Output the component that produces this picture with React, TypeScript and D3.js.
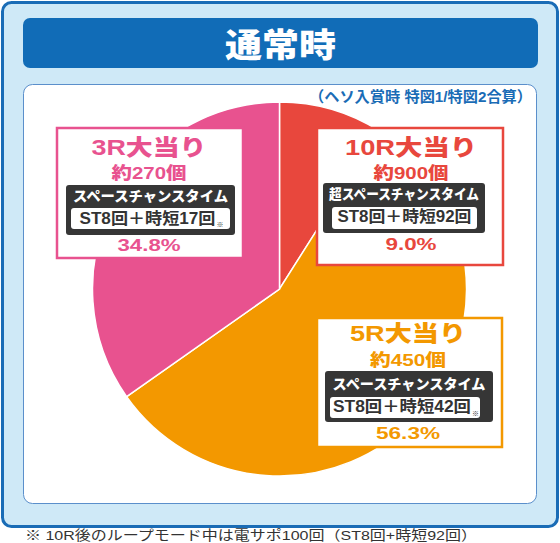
import React from "react";
import * as d3 from "d3";

const categories = ["10R大当り", "5R大当り", "3R大当り"];
const shares = [9.0, 56.3, 34.8];
const payouts = ["約900個", "約450個", "約270個"];
const modes = ["超スペースチャンスタイム", "スペースチャンスタイム", "スペースチャンスタイム"];
const details = ["ST8回＋時短92回", "ST8回＋時短42回", "ST8回＋時短17回"];
const hasNote = [false, true, true];
const colors = ["#e8473d", "#f39800", "#e8528f"];

const title = "通常時";
const subtitle = "（ヘソ入賞時 特図1/特図2合算）";
const footnote = "※ 10R後のループモード中は電サポ100回（ST8回+時短92回）";

// label box layout: frame, text centre, baselines, dark box, inner box, text widths
const boxes = [
  { x: 317, y: 128, w: 186, h: 137, cx: 411, b: [155, 179, 199, 222, 250], dark: [323, 183, 162, 50], inner: [332, 207, 145, 22], tw: [132, 75, 150, 134, 51] },
  { x: 317, y: 318, w: 185, h: 129, cx: 408, b: [341, 366, 389, 412, 439], dark: [325, 371, 168, 51], inner: [330, 397, 150, 21], tw: [116, 76, 153, 138, 64] },
  { x: 57, y: 128, w: 186, h: 130, cx: 149, b: [155, 179, 201, 224, 251], dark: [66, 185, 169, 50], inner: [71, 208, 159, 21], tw: [115, 75, 155, 136, 63] },
];

const FONT = "'Liberation Sans', 'Noto Sans CJK JP', sans-serif";

export default function App() {
  const W = 560, H = 543;
  const cx = 279.5, cy = 289, r = 187;
  const pie = d3.pie<number>().sort(null).value((d) => d)(shares);
  const arc = d3.arc<d3.PieArcDatum<number>>().innerRadius(0).outerRadius(r);
  const fit = { lengthAdjust: "spacingAndGlyphs" as const };

  return (
    <svg width={W} height={H} style={{ position: "absolute", left: 0, top: 0, background: "#fff" }} fontFamily={FONT}>
      <rect x={2.5} y={2.5} width={555} height={524} rx={9} fill="#cfe9f7" stroke="#1a6cb6" strokeWidth={3} />
      <rect x={23} y={18} width={515} height={50} rx={7} fill="#116cb7" />
      <text x={280.5} y={57} textAnchor="middle" fill="#fff" fontSize={33} fontWeight={900} textLength={111} {...fit}>{title}</text>
      <rect x={23.5} y={84.5} width={513} height={419} rx={9} fill="#fff" stroke="#5b8fcb" strokeWidth={1} />
      <text x={532} y={102} textAnchor="end" fill="#1a6cb6" fontSize={15} fontWeight={700} textLength={223} {...fit}>{subtitle}</text>

      <g transform={`translate(${cx},${cy})`}>
        {pie.map((d, i) => (
          <path key={i} d={arc(d) || ""} fill={colors[i]} stroke="#fff" strokeWidth={1.5} />
        ))}
      </g>

      {categories.map((c, i) => {
        const b = boxes[i];
        const col = colors[i];
        const dcx = b.dark[0] + b.dark[2] / 2;
        const icx = b.inner[0] + b.inner[2] / 2 - (hasNote[i] ? 3 : 0);
        return (
          <g key={c}>
            <rect x={b.x} y={b.y} width={b.w} height={b.h} fill="#fff" stroke={col} strokeWidth={2.5} />
            <text x={b.cx} y={b.b[0]} textAnchor="middle" fill={col} fontSize={22} fontWeight={900} textLength={b.tw[0]} {...fit}>{c}</text>
            <text x={b.cx} y={b.b[1]} textAnchor="middle" fill={col} fontSize={17} fontWeight={900} textLength={b.tw[1]} {...fit}>{payouts[i]}</text>
            <rect x={b.dark[0]} y={b.dark[1]} width={b.dark[2]} height={b.dark[3]} rx={3} fill="#363636" />
            <text x={dcx} y={b.b[2]} textAnchor="middle" fill="#fff" fontSize={14} fontWeight={900} textLength={b.tw[2]} {...fit}>{modes[i]}</text>
            <rect x={b.inner[0]} y={b.inner[1]} width={b.inner[2]} height={b.inner[3]} rx={3} fill="#fff" />
            <text x={icx} y={b.b[3]} textAnchor="middle" fill="#333" fontSize={16} fontWeight={700} textLength={b.tw[3]} {...fit}>{details[i]}</text>
            {hasNote[i] && (
              <text x={icx + b.tw[3] / 2 + 1} y={b.inner[1] + b.inner[3] - 2} fill="#333" fontSize={7}>※</text>
            )}
            <text x={b.cx} y={b.b[4]} textAnchor="middle" fill={col} fontSize={17} fontWeight={700} textLength={b.tw[4]} {...fit}>{`${shares[i].toFixed(1)}%`}</text>
          </g>
        );
      })}

      <text x={25} y={540} fill="#333" fontSize={13.5} textLength={452} {...fit}>{footnote}</text>
    </svg>
  );
}
